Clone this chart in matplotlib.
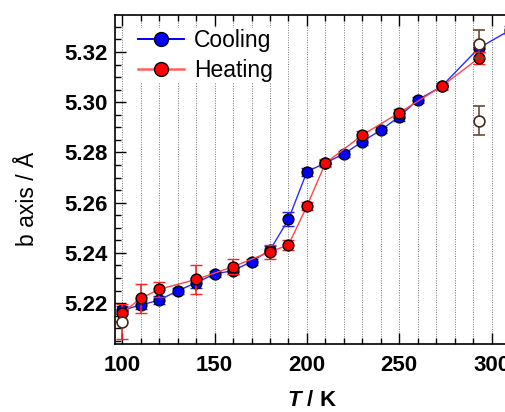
import matplotlib
matplotlib.use("Agg")
import matplotlib.pyplot as plt
from matplotlib.lines import Line2D
from matplotlib.ticker import MultipleLocator, FormatStrFormatter

plt.rcParams['font.family'] = ['Liberation Sans', 'DejaVu Sans']
plt.rcParams['mathtext.fontset'] = 'custom'
plt.rcParams['mathtext.it'] = 'Liberation Sans:italic:bold'
plt.rcParams['mathtext.rm'] = 'Liberation Sans:bold'

# Cooling (blue)
T_cool = [100, 110, 120, 130, 140, 150, 160, 170, 180, 190, 200, 210, 220, 230,
          240, 250, 260, 273, 293, 310]
b_cool = [5.2172, 5.2192, 5.2212, 5.2249, 5.2281, 5.2316, 5.2329, 5.2365, 5.2411,
          5.2533, 5.2723, 5.2758, 5.2794, 5.2843, 5.2889, 5.2942, 5.3009, 5.3063,
          5.3215, 5.3287]
e_cool = [0.0015, 0.0015, 0.0015, 0.0012, 0.002, 0.0012, 0.0012, 0.0012, 0.0015,
          0.0028, 0.0015, 0.0012, 0.0012, 0.0015, 0.0012, 0.0015, 0.0012, 0.0012,
          0.0015, 0.0015]

# Heating (red)
T_heat = [100, 110, 120, 140, 160, 180, 190, 200, 210, 230, 250, 273, 293]
b_heat = [5.2161, 5.2219, 5.2255, 5.2294, 5.2345, 5.2404, 5.2431, 5.2586, 5.2757,
          5.2869, 5.2958, 5.3063, 5.3175]
e_heat_lo = [0.0105, 0.0057, 0.003, 0.0058, 0.003, 0.0028, 0.002, 0.0015, 0.0015,
             0.0015, 0.0015, 0.0015, 0.0024]
e_heat_hi = [0.0035, 0.0057, 0.003, 0.0058, 0.003, 0.0028, 0.002, 0.0015, 0.0015,
             0.0015, 0.0015, 0.0015, 0.0024]

# open symbols
T_open = [100, 293, 293]
b_open = [5.2123, 5.3231, 5.2927]
e_open = [0.0, 0.0057, 0.0056]

fig = plt.figure(figsize=(5.06, 4.12), dpi=100)
ax = fig.add_axes([0.2263, 0.165, 0.7816, 0.7985])

ax.errorbar(T_cool, b_cool, yerr=e_cool, color='#2a2aff', lw=1.0, marker='o',
            ms=7.8, mfc='#0000ff', mec='black', mew=1.0, ecolor='#2020ff',
            elinewidth=1.2, capsize=4.5, capthick=1.2, zorder=3)
ax.errorbar(T_heat, b_heat, yerr=[e_heat_lo, e_heat_hi], color='#ff4545', lw=1.0,
            marker='o', ms=7.8, mfc='#ff0000', mec='black', mew=1.0,
            ecolor='#ff2020', elinewidth=1.2, capsize=4.5, capthick=1.2, zorder=4)
ax.errorbar(T_open, b_open, yerr=e_open, fmt='o', ms=7.8, mfc='white',
            mec='#4a2818', mew=1.2, ecolor='#6b4a3a', elinewidth=1.2,
            capsize=4.5, capthick=1.2, zorder=5)

ax.set_xlim(95.8, 310)
ax.set_ylim(5.2037, 5.3347)

ax.xaxis.set_major_locator(MultipleLocator(50))
ax.xaxis.set_minor_locator(MultipleLocator(10))
ax.yaxis.set_major_locator(MultipleLocator(0.02))
ax.yaxis.set_minor_locator(MultipleLocator(0.005))
ax.yaxis.set_major_formatter(FormatStrFormatter('%.2f'))

ax.grid(axis='x', which='both', color='0.45', linestyle=(0, (1, 1.5)), lw=0.7)
ax.set_axisbelow(True)

ax.tick_params(which='both', direction='in', top=True, right=False, width=1.0)
ax.tick_params(which='major', length=8, labelsize=16)
ax.tick_params(axis='x', which='major', pad=8)
ax.tick_params(axis='y', which='major', pad=5)
ax.tick_params(which='minor', length=4.5)
for lab in ax.get_xticklabels() + ax.get_yticklabels():
    lab.set_fontweight('bold')
for s in ax.spines.values():
    s.set_linewidth(1.2)

ax.set_xlabel(r'$T$ / K', fontsize=16, fontweight='bold', labelpad=10)
ax.set_ylabel('b axis / Å', fontsize=16.5)
ax.yaxis.set_label_coords(-0.19, 0.44)

handles = [
    Line2D([], [], color='#0000ff', lw=1.4, marker='o', ms=10, mfc='#0000ff',
           mec='black', mew=1.0),
    Line2D([], [], color='#ff6060', lw=1.8, marker='o', ms=10, mfc='#ff0000',
           mec='black', mew=1.0),
]
leg = ax.legend(handles, ['Cooling', 'Heating'], loc='upper left',
                bbox_to_anchor=(0.057, 0.96), borderaxespad=0, fontsize=16.5,
                handlelength=2.0, labelspacing=0.3, frameon=True, framealpha=1,
                edgecolor='none', fancybox=False, borderpad=0.05,
                handletextpad=0.45)
leg.set_zorder(6)

fig.savefig('out.png', dpi=100)
